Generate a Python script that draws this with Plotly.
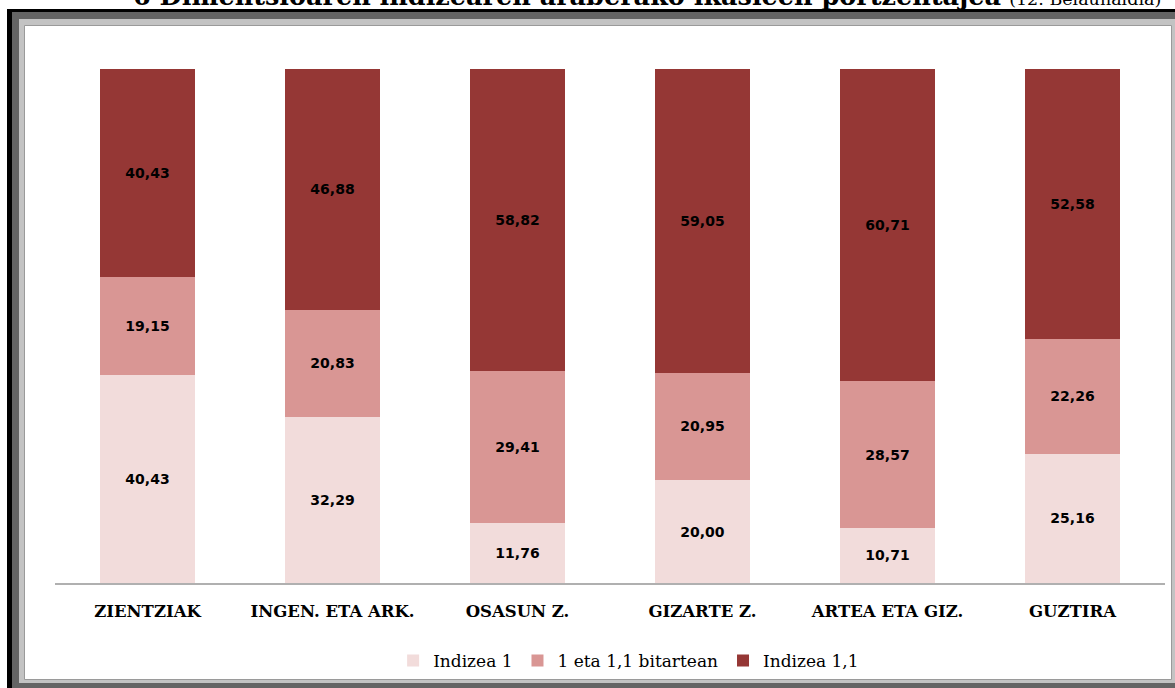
import plotly.graph_objects as go

categories = ["ZIENTZIAK", "INGEN. ETA ARK.", "OSASUN Z.", "GIZARTE Z.", "ARTEA ETA GIZ.", "GUZTIRA"]
series_names = ["Indizea 1", "1 eta 1,1 bitartean", "Indizea 1,1"]
indizea_1 = [40.43, 32.29, 11.76, 20.00, 10.71, 25.16]
bitartean = [19.15, 20.83, 29.41, 20.95, 28.57, 22.26]
indizea_11 = [40.43, 46.88, 58.82, 59.05, 60.71, 52.58]
colors = ["#f2dcdb", "#d99694", "#953735"]

title_bold = "6 Dimentsioaren indizearen araberako ikasleen portzentajea"
title_rest = "(12. Belaunaldia)"

W, H = 1175, 688


def px_x(x):
    return x / W


def px_y(y):
    return 1 - y / H


def fmt(v):
    return f"{v:.2f}".replace(".", ",")


fig = go.Figure()
for name, vals, col in zip(series_names, [indizea_1, bitartean, indizea_11], colors):
    fig.add_trace(go.Bar(
        name=name, x=categories, y=vals,
        marker=dict(color=col, line=dict(width=0)),
        text=[fmt(v) for v in vals],
        textposition="inside", insidetextanchor="middle", textangle=0,
        insidetextfont=dict(family="DejaVu Sans", size=14, color="#000000", weight="bold"),
        hoverinfo="skip",
    ))

shapes = [
    dict(type="rect", xref="paper", yref="paper", x0=px_x(7), x1=px_x(1200), y0=px_y(9), y1=px_y(700),
         fillcolor="#000000", line=dict(width=0), layer="below"),
    dict(type="rect", xref="paper", yref="paper", x0=px_x(12), x1=px_x(1200), y0=px_y(12), y1=px_y(700),
         fillcolor="#646464", line=dict(width=0), layer="below"),
    dict(type="rect", xref="paper", yref="paper", x0=px_x(19), x1=px_x(1200), y0=px_y(19), y1=px_y(683),
         fillcolor="#c3c3c3", line=dict(width=0), layer="below"),
    dict(type="rect", xref="paper", yref="paper", x0=px_x(24.5), x1=px_x(1171.5), y0=px_y(25.5), y1=px_y(679.5),
         fillcolor="#ffffff", line=dict(width=1, color="#9a9a9a"), layer="below"),
]

fig.update_layout(
    width=W, height=H,
    margin=dict(l=0, r=0, t=0, b=0),
    paper_bgcolor="#ffffff", plot_bgcolor="rgba(0,0,0,0)",
    barmode="stack", bargap=0.486,
    shapes=shapes,
    showlegend=True,
    legend=dict(orientation="h", traceorder="normal", x=0.535, xanchor="center", y=px_y(661), yanchor="middle",
                font=dict(family="DejaVu Serif", size=17, color="#000000"),
                bgcolor="rgba(0,0,0,0)", itemclick=False, itemdoubleclick=False),
    xaxis=dict(domain=[px_x(55), px_x(1165)], range=[-0.5, 5.5],
               showline=True, linecolor="#b0b0b0", linewidth=1.5,
               showgrid=False, ticks="", ticklabelstandoff=12,
               tickfont=dict(family="DejaVu Serif", size=16.5, color="#000000", weight="bold"),
               fixedrange=True),
    yaxis=dict(domain=[px_y(583), px_y(69)], range=[0, 100], visible=False, fixedrange=True),
    annotations=[dict(
        xref="paper", yref="paper", x=px_x(647), y=px_y(-4), xanchor="center", yanchor="middle",
        text=f"<b>{title_bold}</b> <span style='font-size:17.5px'>{title_rest}</span>",
        showarrow=False, font=dict(family="DejaVu Serif", size=25.5, color="#000000"),
    )],
)

fig.write_html("out.html", config={"displayModeBar": False},
               post_script="document.body.style.margin='0px';")
